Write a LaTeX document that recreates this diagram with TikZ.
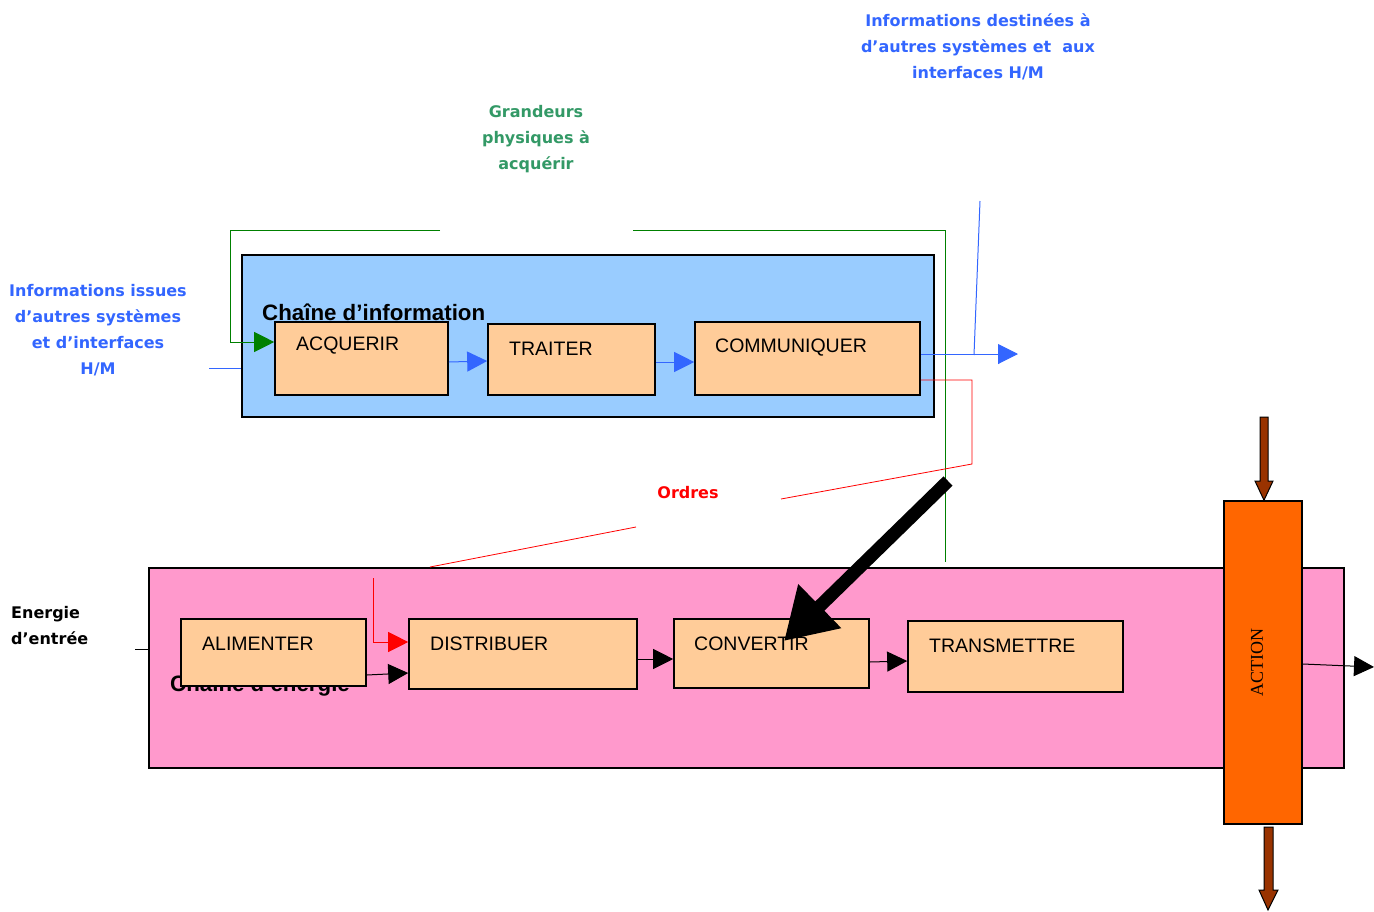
\documentclass[tikz,border=0pt]{standalone}
\usepackage{fontspec}
\setmainfont{Liberation Sans}
\newfontfamily\lblfont{DejaVu Sans}
\newfontfamily\serfont{Liberation Serif}
\usetikzlibrary{arrows.meta,calc}
\definecolor{infoblue}{HTML}{99CCFF}
\definecolor{enpink}{HTML}{FF99CC}
\definecolor{boxorange}{HTML}{FFCC99}
\definecolor{actorange}{HTML}{FF6600}
\definecolor{arrblue}{HTML}{3366FF}
\definecolor{lblgreen}{HTML}{339966}
\definecolor{lngreen}{HTML}{008000}
\definecolor{brown}{HTML}{993300}
\tikzset{
  fbox/.style={draw=black, line width=1.6pt, fill=boxorange, inner sep=0pt},
  chainbox/.style={draw=black, line width=1.6pt, inner sep=0pt},
  boxtext/.style={anchor=west, font=\fontsize{19.5}{22}\selectfont, inner sep=0pt},
  lbl/.style={font=\lblfont\bfseries\fontsize{16}{26}\selectfont, align=center, inner sep=0pt},
  barr/.style={arrblue, line width=1pt, -{Triangle[length=20pt,width=20pt]}},
  karr/.style={black, line width=1pt, -{Triangle[length=20pt,width=20pt]}},
  brownarr/.style={draw=black, line width=1pt, fill=brown},
}
\begin{document}
\begin{tikzpicture}[x=1pt,y=-1pt]
\useasboundingbox (0,0) rectangle (1374,911);
% information chain
\node[chainbox, fill=infoblue, minimum width=692pt, minimum height=162pt] (info) at (588,336) {};
\node[anchor=west, inner sep=0pt, font=\bfseries\fontsize{22.3}{24}\selectfont] (infott) at (262,312) {Chaîne d’information};
\node[fbox, minimum width=173pt, minimum height=73pt] (acq) at (361.5,358.5) {};
\node[boxtext] (acqt) at (296,346) {ACQUERIR};
\node[fbox, minimum width=167pt, minimum height=71pt] (tra) at (571.5,359.5) {};
\node[boxtext] (trat) at (509,349) {TRAITER};
\node[fbox, minimum width=225pt, minimum height=73pt] (com) at (807.5,358.5) {};
\node[boxtext] (comt) at (715,348) {COMMUNIQUER};
% energy chain
\node[chainbox, fill=enpink, minimum width=1195pt, minimum height=200pt] (ener) at (746.5,668) {};
\node[anchor=west, inner sep=0pt, font=\bfseries\fontsize{22.3}{24}\selectfont] (enertt) at (170,686) {Chaîne d’énergie};
\node[fbox, minimum width=185pt, minimum height=67pt] (ali) at (273.5,652.5) {};
\node[boxtext] (alit) at (202,644) {ALIMENTER};
\node[fbox, minimum width=228pt, minimum height=70pt] (dis) at (523,654) {};
\node[boxtext] (dist) at (430,644) {DISTRIBUER};
\node[fbox, minimum width=195pt, minimum height=69pt] (conv) at (771.5,653.5) {};
\node[boxtext] (convt) at (694,644) {CONVERTIR};
\node[fbox, minimum width=215pt, minimum height=71pt] (tran) at (1015.5,656.5) {};
\node[boxtext] (trant) at (929,646) {TRANSMETTRE};
% action
\node[chainbox, fill=actorange, minimum width=78pt, minimum height=323pt] (act) at (1263,662.5) {};
\node[rotate=90, inner sep=0pt, font=\serfont\fontsize{18}{20}\selectfont] (actt) at (1257,662) {ACTION};
% labels
\node[lbl, text=lblgreen] (grand) at (536,139) {Grandeurs\\physiques à\\acquérir};
\node[lbl, text=arrblue] (idest) at (978,47) {Informations destinées à\\d’autres systèmes et~~aux\\interfaces H/M};
\node[lbl, text=arrblue] (iiss) at (98,330) {Informations issues\\d’autres systèmes\\et d’interfaces\\H/M};
\node[lbl, text=red, font=\lblfont\bfseries\fontsize{16}{18}\selectfont] (ordres) at (688,493) {Ordres};
\node[lbl, align=left, anchor=west, text=black] (energ) at (11,626) {Energie\\d’entrée};
% coordinates
\coordinate (gA) at (440,230);
\coordinate (gB) at (230,230);
\coordinate (gC) at (230,342);
\coordinate (gD) at (633,230);
\coordinate (gE) at (945,230);
\coordinate (gF) at (945,562);
\coordinate (bin) at (209,368);
\coordinate (bout) at (1018,354);
\coordinate (bup) at (980,201);
\coordinate (bupe) at (974,355);
\coordinate (r1) at (972,380);
\coordinate (r2) at (972,464);
\coordinate (r3) at (781,499);
\coordinate (r4) at (636,527);
\coordinate (r5) at (430,567);
\coordinate (r6) at (373,578);
\coordinate (r7) at (373,642);
\coordinate (ein) at (135,649);
\coordinate (kA) at (948,481);
\coordinate (kB) at (784,641);
\coordinate (outE) at (1374,667);
% green lines
\draw[lngreen, line width=1pt, -{Triangle[length=20pt,width=20pt]}] (gA) -- (gB) -- (gC) -- (gC -| acq.west);
\draw[lngreen, line width=1pt] (gD) -- (gE) -- (gF);
% blue
\draw[arrblue, line width=1pt] (bin) -- (bin -| info.west);
\draw[barr] (acq.east |- 0,362) -- (tra.west |- 0,361);
\draw[barr] (tra.east |- 0,362) -- (com.west |- 0,362);
\draw[barr] (com.east |- 0,354) -- (bout);
\draw[arrblue, line width=1pt] (bup) -- (bupe);
% red
\draw[red, line width=0.8pt] (com.east |- r1) -- (r1) -- (r2) -- (r3);
\draw[red, line width=0.8pt] (r4) -- (r5);
\draw[red, line width=0.8pt, -{Triangle[length=20pt,width=20pt]}] (r6) -- (r7) -- (r7 -| dis.west);
% black
\draw[black, line width=1pt] (ein) -- (ein -| ener.west);
\draw[karr] (ali.east |- 0,675) -- (dis.west |- 0,673);
\draw[karr] (dis.east |- 0,659) -- (conv.west |- 0,659);
\draw[karr] (conv.east |- 0,662) -- (tran.west |- 0,661);
\draw[karr] (act.east |- 0,664) -- (outE);
\draw[black, line width=13pt, -{Triangle[length=50pt,width=58pt]}] (kA) -- (kB);
% brown arrows
\draw[brownarr] (1260,417) -- (1268,417) -- (1268,481) -- (1273,481) -- (act.north -| 1264,0) -- (1255,481) -- (1260,481) -- cycle;
\draw[brownarr] (1264,827) -- (1273,827) -- (1273,890) -- (1278,890) -- (1268,910) -- (1259,890) -- (1264,890) -- cycle;
\end{tikzpicture}
\end{document}
